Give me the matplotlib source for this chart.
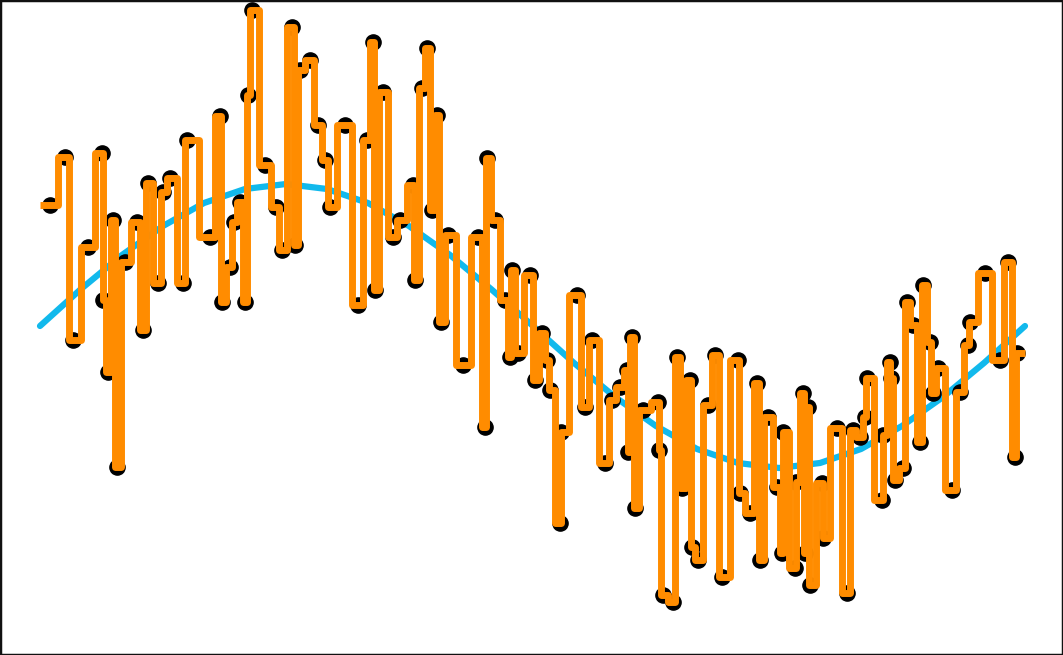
import numpy as np
import matplotlib
matplotlib.use("Agg")
import matplotlib.pyplot as plt

# smooth reference curve
curve_x = [0.00, 0.41, 0.82, 1.23, 1.64, 2.05, 2.46, 2.87, 3.28, 3.69, 4.10, 4.51, 4.93,
           5.34, 5.75, 6.16, 6.57, 6.98, 7.39, 7.80, 8.21, 8.62, 9.03, 9.44, 9.85]
curve_y = [0.00, 0.37, 0.71, 1.00, 1.23, 1.37, 1.42, 1.37, 1.23, 1.00, 0.71, 0.37, 0.00,
           -0.37, -0.71, -1.00, -1.23, -1.37, -1.42, -1.37, -1.23, -1.00, -0.71, -0.37, 0.00]

# noisy samples
sample_x = [0.10, 0.25, 0.33, 0.48, 0.62, 0.63, 0.68, 0.73, 0.77, 0.85,
            0.97, 1.03, 1.08, 1.18, 1.23, 1.30, 1.43, 1.47, 1.70, 1.80,
            1.82, 1.90, 1.94, 2.00, 2.05, 2.08, 2.12, 2.25, 2.36, 2.42,
            2.52, 2.55, 2.60, 2.70, 2.78, 2.85, 2.90, 3.05, 3.18, 3.27,
            3.33, 3.35, 3.43, 3.53, 3.60, 3.73, 3.75, 3.82, 3.87, 3.92,
            3.97, 4.01, 4.08, 4.23, 4.38, 4.45, 4.47, 4.55, 4.65, 4.70,
            4.72, 4.78, 4.90, 4.95, 5.02, 5.07, 5.10, 5.20, 5.21, 5.37,
            5.45, 5.52, 5.65, 5.72, 5.80, 5.87, 5.88, 5.92, 5.95, 6.03,
            6.18, 6.19, 6.23, 6.33, 6.37, 6.42, 6.50, 6.52, 6.58, 6.68,
            6.75, 6.82, 6.98, 7.00, 7.10, 7.17, 7.20, 7.28, 7.37, 7.42,
            7.43, 7.55, 7.56, 7.63, 7.65, 7.68, 7.70, 7.82, 7.83, 7.97,
            8.07, 8.13, 8.20, 8.25, 8.27, 8.42, 8.43, 8.50, 8.51, 8.55,
            8.63, 8.67, 8.73, 8.80, 8.83, 8.90, 8.93, 8.98, 9.12, 9.20,
            9.28, 9.30, 9.45, 9.60, 9.68, 9.75, 9.77]
sample_y = [1.21, 1.69, -0.14, 0.79, 1.73, 0.26, -0.46, 1.06, -1.41, 0.64,
            1.04, -0.04, 1.43, 0.43, 1.34, 1.48, 0.43, 1.86, 0.89, 2.10,
            0.24, 0.59, 1.04, 1.24, 0.24, 2.31, 3.16, 1.61, 1.19, 0.76,
            2.99, 0.81, 2.56, 2.66, 2.01, 1.66, 1.19, 2.01, 0.21, 1.86,
            2.84, 0.36, 2.34, 0.89, 1.06, 1.41, 0.46, 2.38, 2.78, 1.16,
            2.11, 0.04, 0.91, -0.39, 0.89, -1.01, 1.68, 1.06, 0.26, -0.31,
            0.56, -0.27, 0.51, -0.54, -0.07, -0.34, -0.64, -1.97, -1.06, 0.31,
            -0.81, -0.14, -1.37, -0.74, -0.61, -0.44, -1.26, -0.11, -1.82, -0.84,
            -0.76, -1.24, -2.69, -2.76, -0.31, -1.62, -0.54, -2.21, -2.34, -0.79,
            -0.29, -2.51, -0.34, -1.67, -1.87, -0.57, -2.34, -0.91, -1.61, -2.27,
            -1.06, -2.42, -1.56, -0.67, -2.27, -0.81, -2.59, -1.57, -2.12, -1.02,
            -2.67, -1.04, -1.11, -0.91, -0.52, -1.74, -1.09, -0.36, -0.52, -1.54,
            -1.42, 0.24, 0.01, -1.16, 0.41, -0.16, -0.67, -0.42, -1.64, -0.66,
            -0.19, 0.04, 0.53, -0.34, 0.64, -1.31, -0.27]

x = np.array(sample_x)
edges = np.concatenate([[0.0], (x[:-1] + x[1:]) / 2, [9.85]])

fig = plt.figure(figsize=(10.63, 6.55), dpi=100)
ax = fig.add_axes([0, 0, 1, 1])

ax.plot(curve_x, curve_y, color="#12b9ec", linewidth=4.5, solid_capstyle="round", zorder=1)
ax.scatter(sample_x, sample_y, s=120, color="black", zorder=2)
ax.stairs(sample_y, edges, baseline=None, color="#ff8c00", linewidth=5,
          joinstyle="round", zorder=3)

ax.set_xlim(-0.40, 10.23)
ax.set_ylim(-3.29, 3.26)
ax.set_xticks([])
ax.set_yticks([])
for spine in ax.spines.values():
    spine.set_linewidth(2.5)
    spine.set_color("#111111")

fig.savefig("out.png", dpi=100)
